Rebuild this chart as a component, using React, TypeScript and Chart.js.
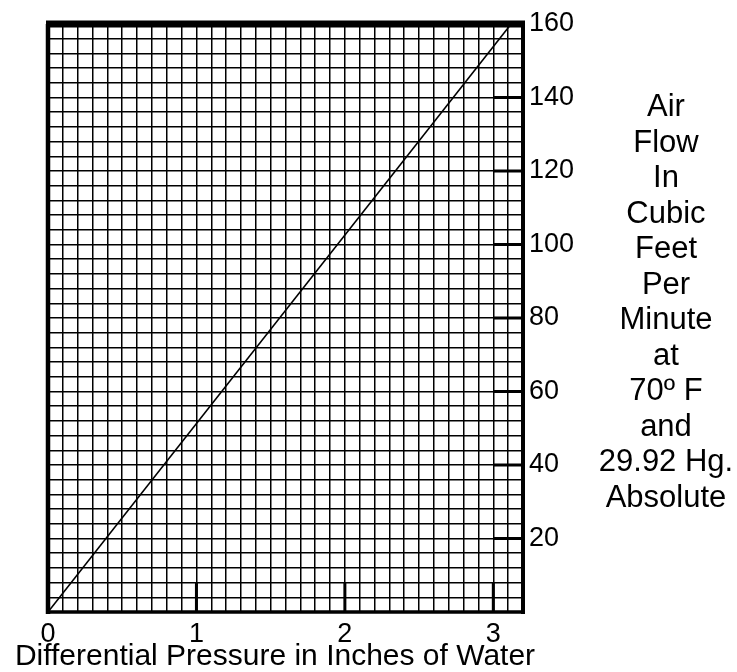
import React, { useEffect, useRef } from "react";
import { Chart, registerables } from "chart.js";

Chart.register(...registerables);

// ---- data ----
const pressure = [0, 3.12]; // inches of water
const airFlow = [0, 160]; // CFM
const xTickLabels = [0, 1, 2, 3];
const yTickLabels = [20, 40, 60, 80, 100, 120, 140, 160];
const xMin = 0;
const xMax = 3.2;
const xGridStep = 0.1;
const yMin = 0;
const yMax = 160;
const yGridStep = 4;
const xTitle = "Differential Pressure in Inches of Water";
const yTitleLines = [
  "Air",
  "Flow",
  "In",
  "Cubic",
  "Feet",
  "Per",
  "Minute",
  "at",
  "70º F",
  "and",
  "29.92 Hg.",
  "Absolute",
];

const FONT = "'Liberation Sans', Arial, Helvetica, sans-serif";

const framePlugin = {
  id: "frame",
  afterDatasetsDraw(chart: any) {
    const { ctx, chartArea, scales } = chart;
    const { left, right, top, bottom } = chartArea;
    const x = scales.x;
    const y = scales.y;
    ctx.save();
    ctx.strokeStyle = "#000";
    ctx.lineCap = "butt";
    // heavier inner tick marks
    ctx.lineWidth = 3;
    const xInner = x.getPixelForValue(xMax - 0.2);
    yTickLabels.forEach((v) => {
      const py = y.getPixelForValue(v);
      ctx.beginPath();
      ctx.moveTo(xInner, py);
      ctx.lineTo(right, py);
      ctx.stroke();
    });
    const yInner = y.getPixelForValue(8);
    xTickLabels.forEach((v) => {
      const px = x.getPixelForValue(v);
      ctx.beginPath();
      ctx.moveTo(px, bottom);
      ctx.lineTo(px, yInner);
      ctx.stroke();
    });
    // frame
    const seg = (x1: number, y1: number, x2: number, y2: number, w: number) => {
      ctx.lineWidth = w;
      ctx.beginPath();
      ctx.moveTo(x1, y1);
      ctx.lineTo(x2, y2);
      ctx.stroke();
    };
    seg(left - 2, top, right + 2, top, 7);
    seg(left, top, left, bottom + 2, 4.5);
    seg(right, top, right, bottom + 2, 4);
    seg(left - 2, bottom, right + 2, bottom, 3.5);
    ctx.restore();
  },
};

export default function App() {
  const canvasRef = useRef<HTMLCanvasElement | null>(null);

  useEffect(() => {
    const canvas = canvasRef.current;
    if (!canvas) return;
    const chart = new Chart(canvas, {
      type: "scatter",
      data: {
        datasets: [
          {
            label: "Air Flow",
            data: pressure.map((p, i) => ({ x: p, y: airFlow[i] })),
            showLine: true,
            borderColor: "#000",
            borderWidth: 1.6,
            pointRadius: 0,
            fill: false,
          },
        ],
      },
      options: {
        responsive: false,
        animation: false,
        maintainAspectRatio: false,
        layout: { padding: { left: 48, top: 24, right: 0, bottom: 0 } },
        plugins: {
          legend: { display: false },
          tooltip: { enabled: false },
        },
        scales: {
          x: {
            type: "linear",
            min: xMin,
            max: xMax,
            afterFit: (s: any) => {
              s.height = 60;
            },
            grid: { color: "#000", lineWidth: 1.5, drawTicks: false },
            border: { display: false },
            ticks: {
              stepSize: xGridStep,
              autoSkip: false,
              maxRotation: 0,
              padding: 6,
              color: "#000",
              font: { family: FONT, size: 27 },
              callback: (v: any) => {
                const hit = xTickLabels.find((l) => Math.abs(l - Number(v)) < 1e-6);
                return hit === undefined ? "" : String(hit);
              },
            },
          },
          y: {
            type: "linear",
            position: "right",
            min: yMin,
            max: yMax,
            afterFit: (s: any) => {
              s.width = 214;
            },
            grid: { color: "#000", lineWidth: 1.5, drawTicks: false },
            border: { display: false },
            ticks: {
              stepSize: yGridStep,
              autoSkip: false,
              padding: 6,
              color: "#000",
              font: { family: FONT, size: 27 },
              callback: (v: any) => {
                const hit = yTickLabels.find((l) => Math.abs(l - Number(v)) < 1e-6);
                return hit === undefined ? "" : String(hit);
              },
            },
          },
        },
      },
      plugins: [framePlugin],
    });
    return () => chart.destroy();
  }, []);

  return (
    <div
      style={{
        position: "fixed",
        left: 0,
        top: 0,
        width: 737,
        height: 672,
        background: "#fff",
        fontFamily: FONT,
        color: "#000",
      }}
    >
      <canvas ref={canvasRef} width={737} height={672} style={{ display: "block" }} />
      <div
        style={{
          position: "absolute",
          left: 0,
          width: 550,
          top: 640,
          fontSize: 30,
          lineHeight: "30px",
          textAlign: "center",
          whiteSpace: "nowrap",
        }}
      >
        {xTitle}
      </div>
      <div
        style={{
          position: "absolute",
          left: 591,
          width: 150,
          top: 88,
          fontSize: 31,
          lineHeight: "35.5px",
          textAlign: "center",
          whiteSpace: "nowrap",
        }}
      >
        {yTitleLines.map((t, i) => (
          <div key={i}>{t}</div>
        ))}
      </div>
    </div>
  );
}
